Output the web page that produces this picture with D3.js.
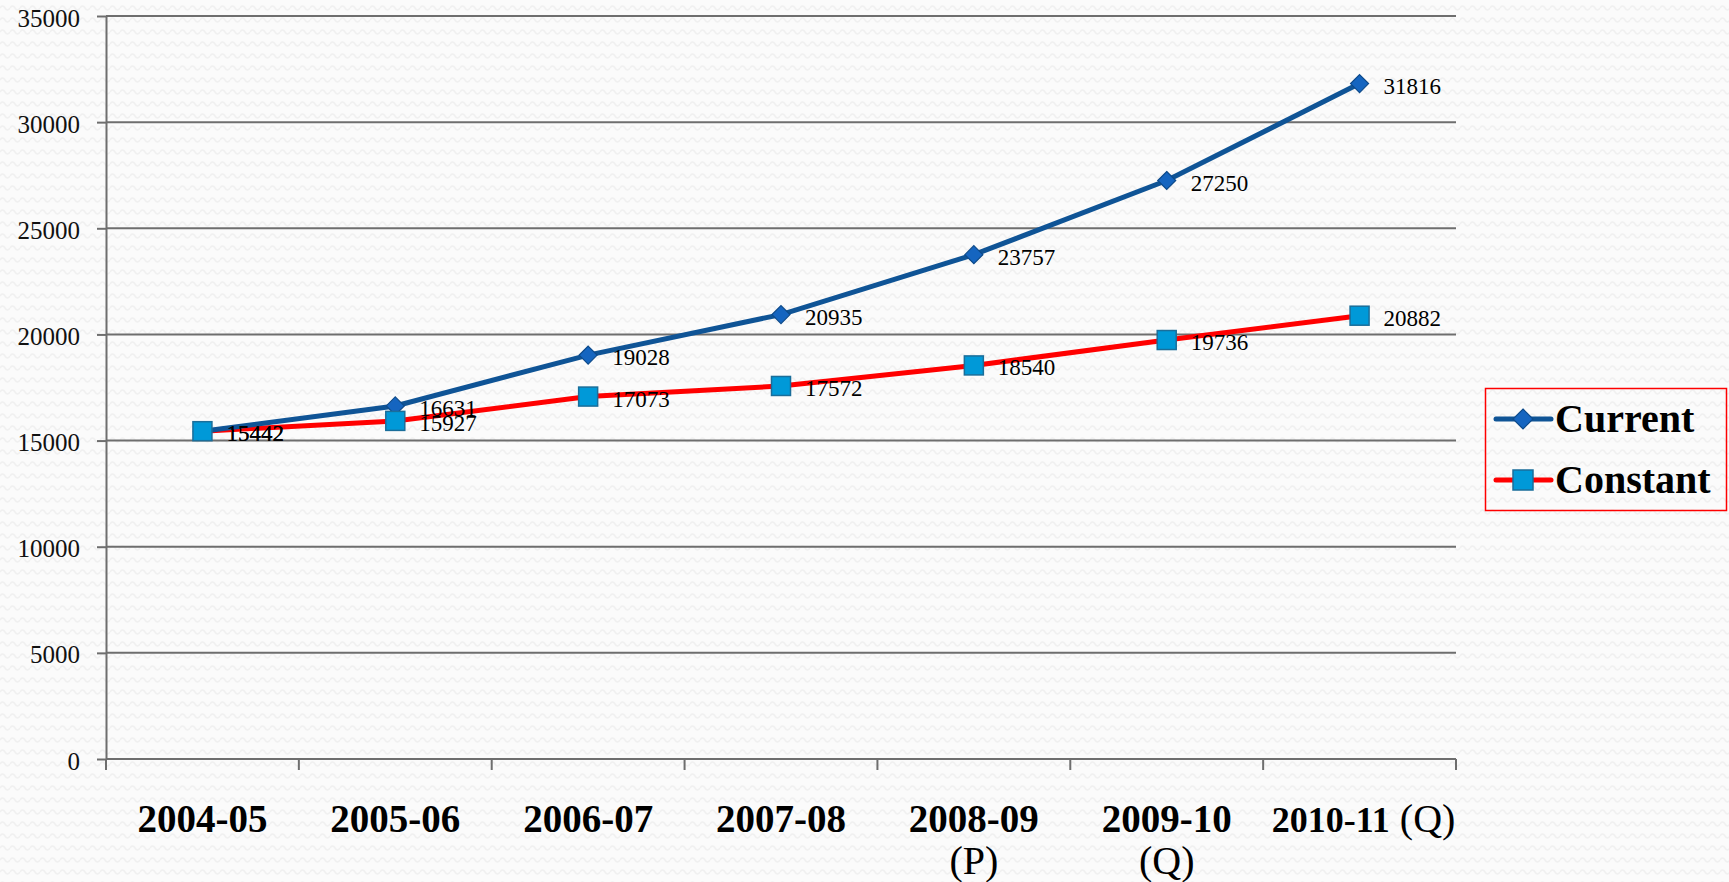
<!DOCTYPE html>
<html><head><meta charset="utf-8">
<script src="https://cdn.jsdelivr.net/npm/d3@7"></script>
<style>html,body{margin:0;padding:0;background:#fbfbfb;overflow:hidden}</style>
</head><body>
<svg id="chart" width="1729" height="882"></svg>
<script>
const categories = ["2004-05", "2005-06", "2006-07", "2007-08", "2008-09", "2009-10", "2010-11"];
const categorySuffix = ["", "", "", "", "(P)", "(Q)", "(Q)"];
const currentValues = [15442, 16631, 19028, 20935, 23757, 27250, 31816];
const constantValues = [15442, 15927, 17073, 17572, 18540, 19736, 20882];
const yTicks = [0, 5000, 10000, 15000, 20000, 25000, 30000, 35000];
const seriesNames = ["Current", "Constant"];

(function() {
const svg = d3.select("#chart");
const W = 1729, H = 882;
const font = "'Liberation Serif', 'DejaVu Serif', serif";

const defs = svg.append("defs");
const pat = defs.append("pattern").attr("id", "bgp").attr("width", 10).attr("height", 12).attr("patternUnits", "userSpaceOnUse");
pat.append("rect").attr("width", 10).attr("height", 12).attr("fill", "#fbfbfb");
pat.append("path").attr("d", "M0,8 Q2.5,4 5,8 T10,8").attr("fill", "none").attr("stroke", "#f0f0f0").attr("stroke-width", 1.5);
svg.append("rect").attr("width", W).attr("height", H).attr("fill", "url(#bgp)");

const pLeft = 106, pRight = 1456, pTop = 16, pBottom = 759;
const x = d3.scaleBand().domain(categories).range([pLeft, pRight]).paddingInner(0).paddingOuter(0);
const y = d3.scaleLinear().domain([0, 35000]).range([pBottom, pTop]);
const cx = c => x(c) + x.bandwidth() / 2;

svg.append("g").selectAll("line").data(yTicks.filter(t => t > 0)).join("line")
  .attr("x1", pLeft).attr("x2", pRight).attr("y1", d => y(d)).attr("y2", d => y(d))
  .attr("stroke", "#6e6e6e").attr("stroke-width", 2);

const yAxis = svg.append("g").attr("transform", `translate(${pLeft},0)`)
  .call(d3.axisLeft(y).tickValues(yTicks).tickSize(9).tickSizeOuter(0).tickPadding(17).tickFormat(d3.format("d")));
yAxis.select(".domain").attr("stroke", "#6e6e6e").attr("stroke-width", 2);
yAxis.selectAll(".tick line").attr("stroke", "#6e6e6e").attr("stroke-width", 2);
yAxis.selectAll(".tick text").attr("font-family", font).attr("font-size", 25).attr("fill", "#111").attr("dy", "0.4em");

const xAxis = svg.append("g").attr("transform", `translate(0,${pBottom})`)
  .call(d3.axisBottom(x).tickSize(0).tickFormat(""));
xAxis.select(".domain").attr("stroke", "#6e6e6e").attr("stroke-width", 2).attr("d", `M${pLeft},0H${pRight}`);
svg.append("g").selectAll("line").data(d3.range(categories.length + 1)).join("line")
  .attr("x1", i => pLeft + i * x.bandwidth()).attr("x2", i => pLeft + i * x.bandwidth())
  .attr("y1", pBottom).attr("y2", pBottom + 11)
  .attr("stroke", "#6e6e6e").attr("stroke-width", 2);

const xl = svg.append("g").selectAll("text").data(categories).join("text")
  .attr("font-family", font).attr("font-size", 39).attr("fill", "#000")
  .attr("text-anchor", "middle")
  .attr("x", d => cx(d)).attr("y", 832);
xl.each(function(d, i) {
  const t = d3.select(this);
  const s = categorySuffix[i];
  if (i === categories.length - 1) {
    t.attr("x", cx(d) + 4);
    t.append("tspan").attr("font-weight", "bold").attr("font-size", 36).text(d);
    t.append("tspan").attr("font-size", 40).text(" " + s);
  } else {
    t.append("tspan").attr("font-weight", "bold").text(d);
    if (s) t.append("tspan").attr("x", cx(d)).attr("dy", 42).attr("font-size", 40).text(s);
  }
});

const line = d3.line().x((d, i) => cx(categories[i])).y(d => y(d));

svg.append("path").datum(constantValues).attr("d", line)
  .attr("fill", "none").attr("stroke", "#ff0000").attr("stroke-width", 5);
svg.append("path").datum(currentValues).attr("d", line)
  .attr("fill", "none").attr("stroke", "#0f5496").attr("stroke-width", 5);

svg.append("g").selectAll("path").data(currentValues).join("path")
  .attr("transform", (d, i) => `translate(${cx(categories[i])},${y(d)})`)
  .attr("d", "M0,-9L9,0L0,9L-9,0Z")
  .attr("fill", "#1565c0").attr("stroke", "#0d4a8a").attr("stroke-width", 1.2);

svg.append("g").selectAll("rect").data(constantValues).join("rect")
  .attr("x", (d, i) => cx(categories[i]) - 9.5).attr("y", d => y(d) - 9.5)
  .attr("width", 19).attr("height", 19)
  .attr("fill", "#0099d8").attr("stroke", "#1a6e9a").attr("stroke-width", 1.5);

function labels(vals) {
  svg.append("g").selectAll("text").data(vals).join("text")
    .attr("x", (d, i) => cx(categories[i]) + 24).attr("y", d => y(d) + 10)
    .attr("font-family", font).attr("font-size", 23).attr("fill", "#000")
    .text(d => d);
}
labels(currentValues);
labels(constantValues);

const lg = svg.append("g");
lg.append("rect").attr("x", 1485.5).attr("y", 388.5).attr("width", 241).attr("height", 122)
  .attr("fill", "none").attr("stroke", "#ff0000").attr("stroke-width", 1.5);
const legendColors = ["#0f5496", "#ff0000"];
seriesNames.forEach((n, i) => {
  const ly = 419 + i * 61;
  lg.append("line").attr("x1", 1496).attr("x2", 1551).attr("y1", ly).attr("y2", ly)
    .attr("stroke", legendColors[i]).attr("stroke-width", 5).attr("stroke-linecap", "round");
  if (i === 0) {
    lg.append("path").attr("transform", `translate(1523,${ly})`).attr("d", "M0,-10L10,0L0,10L-10,0Z")
      .attr("fill", "#1565c0").attr("stroke", "#0d4a8a").attr("stroke-width", 1.2);
  } else {
    lg.append("rect").attr("x", 1513).attr("y", ly - 10).attr("width", 20).attr("height", 20)
      .attr("fill", "#0099d8").attr("stroke", "#1a6e9a").attr("stroke-width", 1.5);
  }
  lg.append("text").attr("x", 1555).attr("y", ly + 13).attr("font-family", font)
    .attr("font-size", 40).attr("font-weight", "bold").attr("fill", "#000").text(n);
});
})();
</script>
</body></html>
